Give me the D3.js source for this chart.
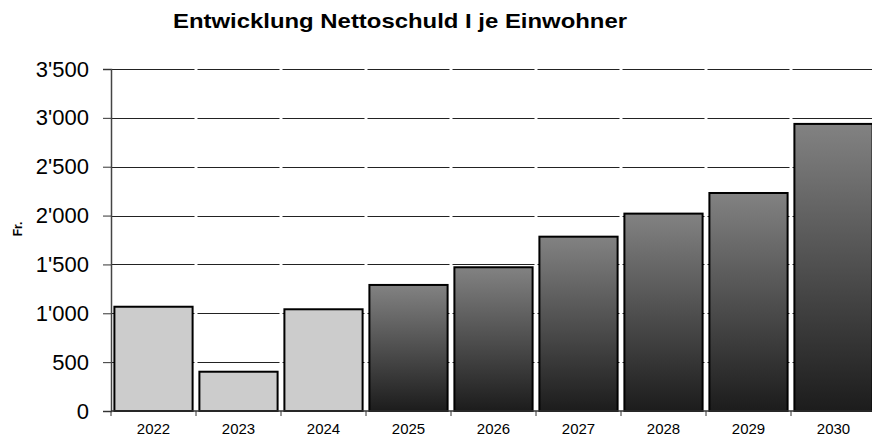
<!DOCTYPE html>
<html>
<head>
<meta charset="utf-8">
<script src="https://cdn.jsdelivr.net/npm/d3@7"></script>
<style>
  body { margin: 0; background: #fff; }
  svg { display: block; font-family: "Liberation Sans", Arial, sans-serif; }
</style>
</head>
<body>
<div id="chart"></div>
<script>
// data
var years = ["2022", "2023", "2024", "2025", "2026", "2027", "2028", "2029", "2030"];
var values = [1067, 402, 1041, 1290, 1471, 1784, 2020, 2231, 2938];
var actual = [true, true, true, false, false, false, false, false, false];
var yTicks = [0, 500, 1000, 1500, 2000, 2500, 3000, 3500];

var width = 872, height = 436;
var margin = {top: 69, left: 111, bottom: 25};
var plotRight = 876;
var y0 = height - margin.bottom; // 411

var svg = d3.select("#chart").append("svg")
    .attr("width", width)
    .attr("height", height);

var defs = svg.append("defs");
var grad = defs.append("linearGradient")
    .attr("id", "barGrad")
    .attr("x1", 0).attr("y1", 0).attr("x2", 0).attr("y2", 1);
grad.append("stop").attr("offset", "0%").attr("stop-color", "#828282");
grad.append("stop").attr("offset", "100%").attr("stop-color", "#1c1c1c");

var x = d3.scaleBand()
    .domain(years)
    .range([margin.left, plotRight])
    .paddingInner(0.08)
    .paddingOuter(0.04);

var y = d3.scaleLinear()
    .domain([0, 3500])
    .range([y0, margin.top]);

var fmt = function(v){ return d3.format(",")(v).replace(/,/g, "'"); };
var step = x.step();

// gridlines, broken at the category separators like the original
var gridRows = yTicks.filter(d => d > 0);
var segs = [];
gridRows.forEach(v => years.forEach((yr, i) => segs.push({v: v, i: i})));
svg.append("g")
    .selectAll("line")
    .data(segs)
    .join("line")
    .attr("x1", d => margin.left + d.i * step + (d.i == 0 ? 0 : 1.5))
    .attr("x2", d => margin.left + (d.i + 1) * step - 1.5)
    .attr("y1", d => Math.round(y(d.v)) + 0.5)
    .attr("y2", d => Math.round(y(d.v)) + 0.5)
    .attr("stroke", "#222")
    .attr("stroke-width", 1);

// bars
svg.append("g")
    .selectAll("rect")
    .data(years)
    .join("rect")
    .attr("x", d => x(d))
    .attr("y", (d, i) => y(values[i]))
    .attr("width", x.bandwidth())
    .attr("height", (d, i) => y(0) - y(values[i]))
    .attr("fill", (d, i) => actual[i] ? "#cccccc" : "url(#barGrad)")
    .attr("stroke", "#000")
    .attr("stroke-width", 2);

// y axis
var yAx = svg.append("g")
    .attr("transform", `translate(${margin.left},0)`)
    .call(d3.axisLeft(y).tickValues(yTicks).tickFormat(fmt).tickSize(8).tickPadding(14));
yAx.select(".domain").attr("stroke", "#444").attr("stroke-width", 1.5);
yAx.selectAll(".tick line").attr("stroke", "#333");
yAx.selectAll(".tick text")
    .attr("font-size", 22)
    .attr("fill", "#000")
    .attr("font-family", "Liberation Sans, Arial, sans-serif");

// x axis
var xAx = svg.append("g").attr("transform", `translate(0,${y0})`);
xAx.append("line")
    .attr("x1", margin.left).attr("x2", plotRight)
    .attr("y1", 0).attr("y2", 0)
    .attr("stroke", "#333").attr("stroke-width", 1.5);
xAx.selectAll(".sep")
    .data(years)
    .join("line")
    .attr("class", "sep")
    .attr("x1", (d, i) => margin.left + i * step)
    .attr("x2", (d, i) => margin.left + i * step)
    .attr("y1", 0).attr("y2", 5)
    .attr("stroke", "#333");
xAx.selectAll("text")
    .data(years)
    .join("text")
    .attr("x", d => x(d) + x.bandwidth() / 2)
    .attr("y", 23)
    .attr("text-anchor", "middle")
    .attr("font-size", 15)
    .text(d => d);

// title (original is a bit wider than Arial, so stretch it)
svg.append("text")
    .attr("x", 400)
    .attr("y", 28)
    .attr("text-anchor", "middle")
    .attr("font-size", 21)
    .attr("font-weight", "bold")
    .attr("textLength", 454)
    .attr("lengthAdjust", "spacingAndGlyphs")
    .text("Entwicklung Nettoschuld I je Einwohner");

// y label
svg.append("text")
    .attr("transform", "translate(22,229) rotate(-90)")
    .attr("text-anchor", "middle")
    .attr("font-size", 12)
    .attr("font-weight", "bold")
    .text("Fr.");
</script>
</body>
</html>
